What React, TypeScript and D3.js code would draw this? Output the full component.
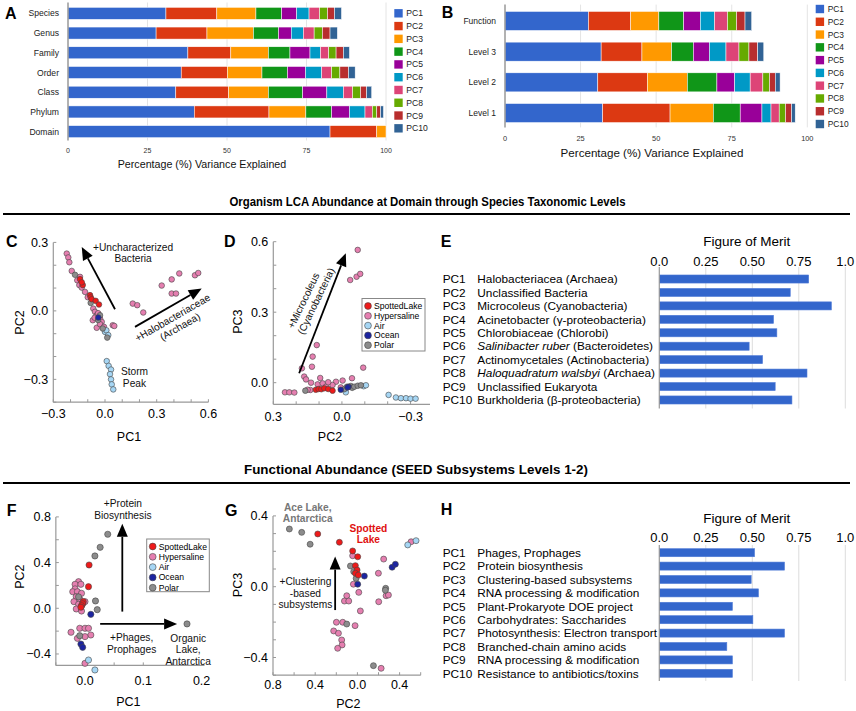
import * as React from 'react';
import * as d3 from 'd3';

const FONT = '"Liberation Sans", Arial, Helvetica, sans-serif';

// ---------- A / B : percentage variance explained ----------
const pcNames = ['PC1', 'PC2', 'PC3', 'PC4', 'PC5', 'PC6', 'PC7', 'PC8', 'PC9', 'PC10'];
const pcColors = ['#3366cc', '#dc3912', '#ff9900', '#109618', '#990099', '#0099c6', '#dd4477', '#66aa00', '#b82e2e', '#316395'];
const pctTicks = [0, 25, 50, 75, 100];

const taxLevels = ['Species', 'Genus', 'Family', 'Order', 'Class', 'Phylum', 'Domain'];
const speciesVar = [30.8, 16.0, 12.3, 8.1, 4.7, 3.9, 3.3, 2.5, 2.2, 2.2];
const genusVar = [27.7, 16.0, 14.6, 7.9, 4.0, 3.8, 3.4, 2.6, 2.4, 2.3];
const familyVar = [37.7, 13.5, 11.8, 6.8, 6.3, 3.3, 2.6, 2.3, 2.3, 1.9];
const orderVar = [35.6, 14.5, 10.9, 8.0, 5.7, 5.1, 3.1, 2.6, 2.7, 2.1];
const classVar = [33.9, 16.6, 12.5, 10.8, 7.6, 5.2, 2.9, 2.5, 1.9, 1.6];
const phylumVar = [39.7, 23.5, 11.6, 8.1, 5.6, 4.9, 2.3, 1.4, 1.2, 0.9];
const domainVar = [82.4, 14.7, 2.9];

const funcLevels = ['Function', 'Level 3', 'Level 2', 'Level 1'];
const functionVar = [27.6, 14.0, 9.3, 8.2, 5.5, 4.7, 4.3, 3.0, 2.8, 2.2];
const level3Var = [31.8, 13.5, 9.8, 7.2, 5.3, 5.5, 4.3, 3.3, 2.9, 2.0];
const level2Var = [30.7, 16.4, 13.2, 9.8, 5.9, 5.1, 4.2, 2.2, 1.9, 1.6];
const level1Var = [32.3, 22.3, 14.3, 8.9, 7.2, 3.0, 2.7, 2.1, 2.0, 1.2];

// ---------- E / H : figure of merit ----------
const meritTicks = [0, 0.25, 0.5, 0.75, 1.0];
const taxMeritDesc = [
  'Halobacteriacea (Archaea)',
  'Unclassified Bacteria',
  'Microcoleus (Cyanobacteria)',
  'Acinetobacter (\u03b3-proteobacteria)',
  'Chlorobiaceae (Chlorobi)',
  'Salinibacter ruber (Bacteroidetes)',
  'Actinomycetales (Actinobacteria)',
  'Haloquadratum walsbyi (Archaea)',
  'Unclassified Eukaryota',
  'Burkholderia (\u03b2-proteobacteria)',
];
const taxMeritItalic = ['', '', '', '', '', 'Salinibacter ruber', '', 'Haloquadratum walsbyi', '', ''];
const taxMerit = [0.803, 0.704, 0.925, 0.614, 0.632, 0.483, 0.555, 0.794, 0.623, 0.713];

const funcMeritDesc = [
  'Phages, Prophages',
  'Protein biosynthesis',
  'Clustering-based subsystems',
  'RNA processing & modification',
  'Plant-Prokaryote DOE project',
  'Carbohydrates: Saccharides',
  'Photosynthesis: Electron transport',
  'Branched-chain amino acids',
  'RNA processing & modification',
  'Resistance to antibiotics/toxins',
];
const funcMerit = [0.512, 0.673, 0.494, 0.533, 0.393, 0.503, 0.673, 0.363, 0.393, 0.393];

// ---------- scatter plots ----------
type Pt = [number, number];
const groupNames = ['SpottedLake', 'Hypersaline', 'Air', 'Ocean', 'Polar'];
const groupColors = ['#ee1a1a', '#e57fb0', '#a6d6f4', '#1c24a0', '#8c8c8c'];
const drawOrder = [1, 2, 4, 3, 0];

// C: PC1 vs PC2 (taxonomy)
const cSpotted: Pt[] = [[-0.145, 0.139], [-0.129, 0.113], [-0.135, 0.125], [-0.087, 0.069], [-0.083, 0.059], [-0.077, 0.051], [-0.054, 0.044], [-0.035, 0.028]];
const cHyper: Pt[] = [
  [-0.222, 0.251], [-0.213, 0.234], [-0.207, 0.213], [-0.193, 0.175], [-0.161, 0.134], [-0.145, 0.149], [-0.149, 0.113],
  [-0.135, 0.102], [-0.116, 0.083], [-0.1, 0.06], [-0.068, 0.01], [-0.058, -0.004], [-0.048, -0.019], [-0.04, -0.01],
  [-0.029, -0.033], [-0.019, -0.048], [-0.071, -0.041], [-0.06, -0.03], [-0.048, -0.074], [-0.029, -0.058], [-0.006, -0.07],
  [0.045, -0.063], [0.054, -0.066],
  [0.161, 0.032], [0.187, 0.025], [0.222, -0.007], [0.329, 0.111], [0.387, 0.138], [0.431, 0.164], [0.387, 0.076],
  [0.412, 0.076], [0.522, 0.156], [0.541, 0.166],
];
const cAir: Pt[] = [[0.0, -0.092], [0.008, -0.085], [0.019, -0.106], [0.01, -0.22], [0.021, -0.241], [0.035, -0.257], [0.029, -0.277], [0.035, -0.3], [0.039, -0.322], [0.048, -0.344]];
const cOcean: Pt[] = [[-0.039, -0.029]];
const cPolar: Pt[] = [[-0.174, 0.158], [-0.083, 0.035], [-0.029, -0.019], [-0.04, -0.04], [-0.013, -0.077], [0.013, -0.117]];

// D: PC2 vs PC3 (taxonomy)
const dSpotted: Pt[] = [[0.114, -0.03], [0.102, -0.027], [0.09, -0.028], [0.077, -0.024], [0.06, -0.027], [0.041, -0.034]];
const dHyper: Pt[] = [
  [-0.069, 0.565], [-0.036, 0.437], [-0.064, 0.451], [-0.08, 0.463], [0.11, 0.16], [0.128, 0.111], [0.175, 0.061],
  [0.131, 0.068], [-0.093, 0.064], [0.249, -0.041], [0.23, -0.041], [0.208, -0.042], [0.165, 0.026], [0.157, 0.014],
  [0.135, 0.0], [0.106, -0.007], [0.084, -0.003], [0.07, -0.017], [0.026, 0.004], [-0.003, 0.009], [-0.044, 0.019],
  [0.138, -0.031], [0.041, -0.01], [0.095, 0.02], [0.005, -0.02], [0.15, -0.03], [0.06, 0.002],
];
const dAir: Pt[] = [[-0.017, -0.041], [-0.095, -0.015], [-0.105, -0.011], [-0.204, -0.052], [-0.236, -0.063], [-0.258, -0.066], [-0.28, -0.066], [-0.3, -0.068], [-0.322, -0.068]];
const dOcean: Pt[] = [[-0.029, -0.017], [-0.025, -0.02], [0.005, -0.03]];
const dPolar: Pt[] = [[0.16, -0.034], [-0.01, -0.028], [-0.022, -0.017], [-0.039, -0.014], [-0.045, -0.022], [-0.054, -0.017], [-0.069, -0.013], [-0.083, -0.011]];

// F: PC1 vs PC2 (function)
const fSpotted: Pt[] = [[0.007, 0.379], [0.006, 0.189], [-0.003, 0.058], [-0.004, 0.04], [-0.006, 0.023], [-0.007, 0.009]];
const fHyper: Pt[] = [
  [-0.011, 0.233], [-0.017, 0.21], [-0.007, 0.21], [-0.017, 0.17], [-0.021, 0.145], [-0.013, 0.145], [-0.006, 0.131],
  [-0.015, 0.102], [-0.009, 0.08], [-0.019, 0.058], [-0.011, 0.035], [-0.015, -0.006], [0.0, 0.058], [-0.006, -0.024],
  [-0.024, -0.21], [-0.009, -0.175], [0.0, -0.175], [0.006, -0.175], [0.01, -0.234], [0.0, -0.248], [-0.013, -0.263], [0.0, -0.482],
];
const fAir: Pt[] = [[0.006, -0.453], [0.017, -0.54]];
const fOcean: Pt[] = [[0.01, -0.053], [-0.007, -0.313], [-0.004, -0.342]];
const fPolar: Pt[] = [[0.039, 0.648], [0.026, 0.534], [0.017, 0.458], [0.018, 0.064], [0.021, -0.012], [0.175, -0.137], [-0.011, 0.1], [-0.009, -0.24], [-0.005, 0.03]];

// G: PC2 vs PC3 (function)
const gSpotted: Pt[] = [[0.376, 0.298], [0.171, 0.251], [0.045, 0.202], [-0.003, 0.169], [0.019, 0.119], [0.003, 0.094], [0.019, 0.076], [-0.009, 0.066]];
const gHyper: Pt[] = [
  [0.045, 0.175], [0.038, 0.014], [-0.013, -0.032], [0.101, -0.051], [0.123, -0.081], [0.082, -0.081], [-0.028, -0.137],
  [0.199, -0.201], [0.139, -0.201], [0.022, -0.22], [0.225, -0.25], [0.18, -0.263], [0.149, -0.301], [0.145, -0.329],
  [0.187, -0.348], [-0.225, -0.461], [-0.199, 0.076], [-0.249, 0.156], [-0.272, -0.051], [-0.202, -0.085], [-0.294, -0.047], [-0.509, 0.254],
];
const gAir: Pt[] = [[-0.477, 0.236], [-0.556, 0.26]];
const gOcean: Pt[] = [[-0.066, 0.06], [-0.003, 0.014], [-0.329, 0.11], [-0.36, 0.127]];
const gPolar: Pt[] = [[0.645, 0.326], [0.528, 0.307], [0.448, 0.24], [0.066, 0.117], [0.035, 0.085], [0.012, 0.047], [0.101, -0.211], [-0.152, -0.446], [-0.268, -0.009], [-0.265, -0.02]];

type Note = { x: number; y: number; lines: string[]; rot?: number; dx2?: number; color?: string; bold?: boolean };
type Arrow = { from: Pt; to: Pt };

function ArrowMark({ x1, y1, x2, y2 }: { x1: number; y1: number; x2: number; y2: number }) {
  const ang = Math.atan2(y2 - y1, x2 - x1);
  const hl = 13, hw = 5.5;
  const bx = x2 - hl * Math.cos(ang), by = y2 - hl * Math.sin(ang);
  const px = -Math.sin(ang) * hw, py = Math.cos(ang) * hw;
  return (
    <g>
      <line x1={x1} y1={y1} x2={bx} y2={by} stroke="#000" strokeWidth={1.8} />
      <polygon points={`${x2},${y2} ${bx + px},${by + py} ${bx - px},${by - py}`} fill="#000" />
    </g>
  );
}

function StackedPanel(p: {
  cats: string[]; rows: number[][]; x0: number; x1: number; y0: number; y1: number; pad: number;
  labelX: number; tickY: number; tickSize: number; catSize: number; titleX: number; titleY: number; titleSize: number;
  legX: number; legY: number; legStep: number; legSize: number; letter: string; letterX: number; letterY: number;
}) {
  const x = d3.scaleLinear().domain([0, 100]).range([p.x0, p.x1]);
  const y = d3.scaleBand<string>().domain(p.cats).range([p.y0, p.y1]).paddingInner(p.pad).paddingOuter(p.pad / 2);
  const top = p.y0 - 1, bot = p.y1 - 1;
  return (
    <g>
      {pctTicks.slice(1).map(t => (
        <line key={t} x1={x(t)} x2={x(t)} y1={top} y2={bot} stroke="#e4e4e4" strokeWidth={1} />
      ))}
      {p.rows.map((vals, i) => {
        const ends = Array.from(d3.cumsum(vals));
        return vals.map((v, j) => (
          <rect key={`${i}-${j}`} x={x(ends[j] - v)} width={x(v) - x(0)} y={y(p.cats[i])} height={y.bandwidth()}
            fill={pcColors[j]} stroke="#fff" strokeWidth={0.5} />
        ));
      })}
      <line x1={x(0)} x2={x(0)} y1={top} y2={bot} stroke="#999" strokeWidth={1.5} />
      {p.cats.map(c => (
        <text key={c} x={p.labelX} y={(y(c) as number) + y.bandwidth() / 2 + p.catSize * 0.35} textAnchor="end" fontSize={p.catSize} fill="#222">{c}</text>
      ))}
      {pctTicks.map(t => (
        <text key={t} x={x(t)} y={p.tickY} textAnchor="middle" fontSize={p.tickSize} fill="#333">{t}</text>
      ))}
      <text x={p.titleX} y={p.titleY} textAnchor="middle" fontSize={p.titleSize} fill="#111">Percentage (%) Variance Explained</text>
      {pcNames.map((n, i) => (
        <g key={n}>
          <rect x={p.legX} y={p.legY + i * p.legStep - 4.2} width={8.4} height={8.4} fill={pcColors[i]} />
          <text x={p.legX + 12} y={p.legY + i * p.legStep + 3} fontSize={p.legSize} fill="#222">{n}</text>
        </g>
      ))}
      <text x={p.letterX} y={p.letterY} fontSize={16} fontWeight="bold">{p.letter}</text>
    </g>
  );
}

function MeritPanel(p: {
  letter: string; descs: string[]; italics?: string[]; values: number[]; y0: number; y1: number; gridTop: number; gridBot: number;
  tickY: number; titleY: number; letterY: number;
}) {
  const x = d3.scaleLinear().domain([0, 1]).range([659.3, 845.3]);
  const y = d3.scaleBand<string>().domain(pcNames).range([p.y0, p.y1]).paddingInner(0.4).paddingOuter(0.2);
  const fmt = (t: number) => (t === 0.25 || t === 0.75 || t === 0.5 ? d3.format('.2f')(t) : d3.format('.1f')(t));
  return (
    <g>
      <text x={440.7} y={p.letterY} fontSize={16} fontWeight="bold">{p.letter}</text>
      <text x={746.7} y={p.titleY} textAnchor="middle" fontSize={13.5}>Figure of Merit</text>
      {meritTicks.map(t => (
        <g key={t}>
          {t > 0 && <line x1={x(t)} x2={x(t)} y1={p.gridTop} y2={p.gridBot} stroke="#dcdcdc" strokeWidth={1} />}
          <text x={x(t)} y={p.tickY} textAnchor="middle" fontSize={13}>{fmt(t)}</text>
        </g>
      ))}
      {pcNames.map((n, i) => {
        const cy = (y(n) as number) + y.bandwidth() / 2;
        const it = p.italics ? p.italics[i] : '';
        const desc = p.descs[i];
        return (
          <g key={n}>
            <rect x={x(0)} y={y(n)} width={x(p.values[i]) - x(0)} height={y.bandwidth()} fill="#3366cc" stroke="#4f7ad6" strokeWidth={0.6} />
            <text x={442.7} y={cy + 4.2} fontSize={11.8}>{n}</text>
            <text x={477.3} y={cy + 4.2} fontSize={11.8}>
              {it ? <tspan fontStyle="italic">{it}</tspan> : null}
              {it ? desc.slice(it.length) : desc}
            </text>
          </g>
        );
      })}
      <line x1={x(0)} x2={x(0)} y1={p.gridTop} y2={p.gridBot} stroke="#999" strokeWidth={1.2} />
    </g>
  );
}

function Scatter(p: {
  groups: Pt[][]; xDomain: [number, number]; yDomain: [number, number]; xRange: [number, number]; yRange: [number, number];
  xTicks: number[]; yTicks: number[]; xMinor: number[]; yMinor: number[]; fmtX: (v: number) => string; fmtY: (v: number) => string;
  xTickDy: number; r: number; xLabel: string; yLabel: string; xLabelPos: Pt; yLabelPos: Pt; letter: string; letterPos: Pt;
  arrows: Arrow[]; notes: Note[]; legend?: { x: number; y: number; w: number; h: number; step: number };
}) {
  const sx = d3.scaleLinear().domain(p.xDomain).range(p.xRange);
  const sy = d3.scaleLinear().domain(p.yDomain).range(p.yRange);
  const ax = p.xRange[0], ay = p.yRange[0];
  return (
    <g>
      <line x1={ax} x2={p.xRange[1]} y1={ay} y2={ay} stroke="#999" strokeWidth={1.2} />
      <line x1={ax} x2={ax} y1={ay} y2={p.yRange[1]} stroke="#999" strokeWidth={1.2} />
      {p.xMinor.map(v => <line key={'xm' + v} x1={sx(v)} x2={sx(v)} y1={ay} y2={ay - 3} stroke="#999" />)}
      {p.yMinor.map(v => <line key={'ym' + v} x1={ax} x2={ax + 3} y1={sy(v)} y2={sy(v)} stroke="#999" />)}
      {p.xTicks.map(v => (
        <text key={'xt' + v} x={sx(v)} y={ay + p.xTickDy} textAnchor="middle" fontSize={12.5}>{p.fmtX(v)}</text>
      ))}
      {p.yTicks.map(v => (
        <text key={'yt' + v} x={ax - 5} y={sy(v) + 4.5} textAnchor="end" fontSize={12.5}>{p.fmtY(v)}</text>
      ))}
      <text x={p.xLabelPos[0]} y={p.xLabelPos[1]} textAnchor="middle" fontSize={12.5}>{p.xLabel}</text>
      <text transform={`translate(${p.yLabelPos[0]},${p.yLabelPos[1]}) rotate(-90)`} y={4.5} textAnchor="middle" fontSize={12.5}>{p.yLabel}</text>
      <text x={p.letterPos[0]} y={p.letterPos[1]} fontSize={16} fontWeight="bold">{p.letter}</text>
      {drawOrder.map(gi => p.groups[gi].map((d, k) => (
        <circle key={`${gi}-${k}`} cx={sx(d[0])} cy={sy(d[1])} r={p.r} fill={groupColors[gi]} stroke="#444" strokeWidth={0.6} />
      )))}
      {p.arrows.map((a, i) => (
        <ArrowMark key={i} x1={sx(a.from[0])} y1={sy(a.from[1])} x2={sx(a.to[0])} y2={sy(a.to[1])} />
      ))}
      {p.notes.map((n, i) => (
        <g key={i} transform={`translate(${sx(n.x)},${sy(n.y)}) rotate(${n.rot || 0})`}>
          {n.lines.map((l, j) => (
            <text key={j} x={j > 0 ? n.dx2 || 0 : 0} y={3.5 + j * 11.5} textAnchor="middle" fontSize={10.2}
              fill={n.color || '#111'} fontWeight={n.bold ? 'bold' : 'normal'}>{l}</text>
          ))}
        </g>
      ))}
      {p.legend && (
        <g>
          <rect x={p.legend.x} y={p.legend.y} width={p.legend.w} height={p.legend.h} fill="#fff" stroke="#888" strokeWidth={1} />
          {groupNames.map((g, i) => (
            <g key={g}>
              <circle cx={p.legend!.x + 6} cy={p.legend!.y + 7.5 + i * p.legend!.step} r={3.4} fill={groupColors[i]} stroke="#444" strokeWidth={0.6} />
              <text x={p.legend!.x + 12} y={p.legend!.y + 10.5 + i * p.legend!.step} fontSize={8.6}>{g}</text>
            </g>
          ))}
        </g>
      )}
    </g>
  );
}

const f1 = d3.format('.1f');
const steps = (a: number, b: number, s: number) => d3.range(Math.round((b - a) / s) + 1).map(i => +(a + i * s).toFixed(3));

export default function App() {
  return (
    <div style={{ position: 'absolute', left: 0, top: 0 }}>
      <svg width={856} height={711} style={{ display: 'block', background: '#fff' }} fontFamily={FONT}>
        <StackedPanel cats={taxLevels} rows={[speciesVar, genusVar, familyVar, orderVar, classVar, phylumVar, domainVar]}
          x0={68} x1={386} y0={3.5} y1={141.5} pad={0.39} labelX={59} tickY={152.5} tickSize={7} catSize={8.6}
          titleX={202} titleY={168} titleSize={10.7} legX={394.3} legY={13.3} legStep={12.78} legSize={8.6}
          letter="A" letterX={5} letterY={19} />
        <StackedPanel cats={funcLevels} rows={[functionVar, level3Var, level2Var, level1Var]}
          x0={505} x1={807.3} y0={5.6} y1={128.4} pad={0.38} labelX={496} tickY={140.5} tickSize={7.4} catSize={8.5}
          titleX={652} titleY={157} titleSize={11.6} legX={815.7} legY={9} legStep={12.78} legSize={8.4}
          letter="B" letterX={441.7} letterY={17.5} />

        <text x={427.5} y={205.5} textAnchor="middle" fontSize={12.6} fontWeight="bold" textLength={396} lengthAdjust="spacingAndGlyphs">Organism LCA Abundance at Domain through Species Taxonomic Levels</text>
        <line x1={3} x2={850} y1={214} y2={214} stroke="#000" strokeWidth={2} />
        <text x={416} y={473.5} textAnchor="middle" fontSize={12.8} fontWeight="bold" textLength={344} lengthAdjust="spacingAndGlyphs">Functional Abundance (SEED Subsystems Levels 1-2)</text>
        <line x1={3} x2={850} y1={483} y2={483} stroke="#000" strokeWidth={2} />

        <Scatter groups={[cSpotted, cHyper, cAir, cOcean, cPolar]} xDomain={[-0.3, 0.6]} yDomain={[-0.4, 0.3]}
          xRange={[53.3, 208.4]} yRange={[402.2, 242.4]} xTicks={[-0.3, 0, 0.3, 0.6]} yTicks={[-0.3, 0, 0.3]}
          xMinor={steps(-0.3, 0.6, 0.1)} yMinor={steps(-0.4, 0.3, 0.1)} fmtX={f1} fmtY={f1} xTickDy={15.5} r={2.8}
          xLabel="PC1" yLabel="PC2" xLabelPos={[129, 441]} yLabelPos={[19, 322.5]} letter="C" letterPos={[6, 247]}
          arrows={[{ from: [0.058, 0.007], to: [-0.135, 0.28] }, { from: [0.174, -0.07], to: [0.561, 0.098] }]}
          notes={[
            { x: 0.163, y: 0.279, lines: ['+Uncharacterized', 'Bacteria'] },
            { x: 0.392, y: -0.03, lines: ['+Halobacteriaceae', '(Archaea)'], rot: -30, dx2: 2 },
            { x: 0.171, y: -0.267, lines: ['Storm', 'Peak'] },
          ]} />
        <Scatter groups={[dSpotted, dHyper, dAir, dOcean, dPolar]} xDomain={[0.3, -0.385]} yDomain={[-0.092, 0.6]}
          xRange={[273.3, 430]} yRange={[404.3, 241.7]} xTicks={[0.3, 0, -0.3]} yTicks={[0, 0.3, 0.6]}
          xMinor={steps(-0.3, 0.3, 0.1)} yMinor={steps(0, 0.6, 0.1)} fmtX={f1} fmtY={f1} xTickDy={17} r={2.8}
          xLabel="PC2" yLabel="PC3" xLabelPos={[330, 441]} yLabelPos={[237, 321.7]} letter="D" letterPos={[224, 247]}
          arrows={[{ from: [0.187, 0.04], to: [-0.017, 0.551] }]}
          notes={[{ x: 0.168, y: 0.349, lines: ['+Microcoleus', '(Cyanobacteria)'], rot: -64.3, dx2: 5 }]}
          legend={{ x: 362, y: 298.5, w: 63, h: 52.5, step: 9.8 }} />
        <MeritPanel letter="E" descs={taxMeritDesc} italics={taxMeritItalic} values={taxMerit}
          y0={272.3} y1={406.7} gridTop={267} gridBot={408.5} tickY={265.5} titleY={246} letterY={247.3} />

        <Scatter groups={[fSpotted, fHyper, fAir, fOcean, fPolar]} xDomain={[-0.05, 0.205]} yDomain={[-0.5, 0.8]}
          xRange={[55.85, 204.5]} yRange={[665.4, 516.9]} xTicks={[0, 0.1, 0.2]} yTicks={[-0.4, 0, 0.4, 0.8]}
          xMinor={steps(-0.05, 0.2, 0.05)} yMinor={steps(-0.4, 0.8, 0.2)} fmtX={f1} fmtY={f1} xTickDy={20} r={3.1}
          xLabel="PC1" yLabel="PC2" xLabelPos={[128.3, 706]} yLabelPos={[19, 576.7]} letter="F" letterPos={[6.7, 515.7]}
          arrows={[{ from: [0.064, -0.029], to: [0.064, 0.739] }, { from: [0.026, -0.137], to: [0.158, -0.137] }]}
          notes={[
            { x: 0.065, y: 0.917, lines: ['+Protein', 'Biosynthesis'] },
            { x: 0.08, y: -0.257, lines: ['+Phages,', 'Prophages'] },
            { x: 0.177, y: -0.263, lines: ['Organic', 'Lake,', 'Antarctica'] },
          ]}
          legend={{ x: 146.7, y: 539, w: 62.6, h: 52.7, step: 10.3 }} />
        <Scatter groups={[gSpotted, gHyper, gAir, gOcean, gPolar]} xDomain={[0.8, -0.6]} yDomain={[-0.5, 0.4]}
          xRange={[273, 420.7]} yRange={[675.2, 515.9]} xTicks={[0.8, 0.4, 0, -0.4]} yTicks={[-0.4, 0, 0.4]}
          xMinor={steps(-0.6, 0.8, 0.2)} yMinor={steps(-0.5, 0.4, 0.1)} fmtX={v => f1(Math.abs(v))} fmtY={f1} xTickDy={13.5} r={3}
          xLabel="PC2" yLabel="PC3" xLabelPos={[348.3, 707.5]} yLabelPos={[237, 585]} letter="G" letterPos={[225, 515.7]}
          arrows={[{ from: [0.211, -0.132], to: [0.211, 0.17] }]}
          notes={[
            { x: 0.471, y: 0.449, lines: ['Ace Lake,', 'Antarctica'], color: '#777', bold: true },
            { x: -0.104, y: 0.33, lines: ['Spotted', 'Lake'], color: '#e01010', bold: true },
            { x: 0.493, y: 0.028, lines: ['+Clustering', '-based', 'subsystems'] },
          ]} />
        <MeritPanel letter="H" descs={funcMeritDesc} values={funcMerit}
          y0={546} y1={680} gridTop={545} gridBot={681} tickY={542} titleY={522.5} letterY={515} />
      </svg>
    </div>
  );
}
